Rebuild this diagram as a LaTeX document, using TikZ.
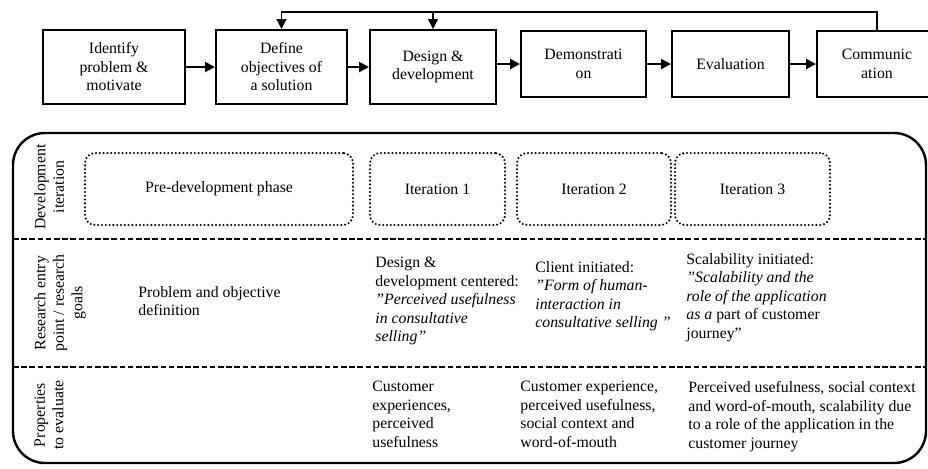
\documentclass[tikz,border=0pt]{standalone}
\usepackage{fontspec}
\setmainfont{Liberation Serif}
\usetikzlibrary{arrows.meta}
\newcommand{\txtsize}{\fontsize{7.9}{9.25}\selectfont}
\newcommand{\dq}{{\char34}}
\begin{document}
\begin{tikzpicture}[x=0.5pt,y=-0.5pt,every node/.style={font=\txtsize},
  stage/.style={draw,line width=1pt,align=center,inner sep=1pt},
  flow/.style={line width=1pt,-{Triangle[length=5pt,width=5pt]}},
  backflow/.style={line width=0.6pt,-{Triangle[length=5pt,width=5pt]}},
  iterbox/.style={draw,line width=1.15pt,dash pattern=on 0pt off 1.9pt,line cap=round,rounded corners=5pt,minimum height=36pt},
  rowlabel/.style={rotate=90,anchor=north,align=center,inner sep=0pt},
  cell/.style={anchor=north west,align=left,inner sep=0pt},
  rowsep/.style={line width=1.1pt,dash pattern=on 2.8pt off 1.3pt}]
\useasboundingbox (0,0) rectangle (928,468);
% process steps
\node[stage,minimum width=71pt,minimum height=37pt] (identify) at (114,67) {Identify\\problem \&\\motivate};
\node[stage,minimum width=65.5pt,minimum height=37pt] (define) at (281.5,67) {Define\\objectives of\\a solution};
\node[stage,minimum width=63pt,minimum height=37pt] (design) at (433,67) {Design \&\\development};
\node[stage,minimum width=62.5pt,minimum height=33pt] (demo) at (583.5,64) {Demonstrati\\on};
\node[stage,minimum width=58.5pt,minimum height=33pt] (eval) at (730.5,64) {Evaluation};
\node[stage,minimum width=60pt,minimum height=33pt] (comm) at (877,64) {Communic\\ation};
\draw[flow] (identify.east) -- (define.west);
\draw[flow] (define.east) -- (design.west);
\draw[flow] (design.east |- demo.west) -- (demo.west);
\draw[flow] (demo.east) -- (eval.west);
\draw[flow] (eval.east) -- (comm.west);
\coordinate (back) at (877,12);
\draw[backflow] (comm.north) -- (back) -- (back -| define.north) -- (define.north);
\draw[backflow] (back -| design.north) -- (design.north);
% iterations frame
\draw[line width=1.2pt,rounded corners=16pt] (13,133) rectangle (926,463);
\draw[rowsep] (13,239) -- (926,239);
\draw[rowsep] (13,367) -- (926,367);
\node[rowlabel] (lab1) at (34,187) {Development\\iteration};
\node[rowlabel] (lab2) at (34,303) {Research entry\\point / research\\goals};
\node[rowlabel] (lab3) at (34,415) {Properties\\to evaluate};
\node[iterbox,minimum width=134pt] (pre) at (219,189) {Pre-development phase};
\node[iterbox,minimum width=67.5pt] (it1) at (437.5,189) {Iteration 1};
\node[iterbox,minimum width=77pt] (it2) at (594,189) {Iteration 2};
\node[iterbox,minimum width=77.5pt] (it3) at (752.5,189) {Iteration 3};
\node[cell] (goal0) at (138,286) {Problem and objective\\definition};
\node[cell] (goal1) at (375,257) {Design \&\\development centered:\\\textit{\dq Perceived usefulness}\\\textit{in consultative}\\\textit{selling\dq}};
\node[cell] (goal2) at (535,261) {Client initiated:\\\textit{\dq Form of human-}\\\textit{interaction in}\\\textit{consultative selling \dq}};
\node[cell] (goal3) at (686,253) {Scalability initiated:\\\textit{\dq Scalability and the}\\\textit{role of the application}\\\textit{as a} part of customer\\journey”};
\node[cell] (prop1) at (372,381) {Customer\\experiences,\\perceived\\usefulness};
\node[cell] (prop2) at (520,381) {Customer experience,\\perceived usefulness,\\social context and\\word-of-mouth};
\node[cell] (prop3) at (688,381) {Perceived usefulness, social context\\and word-of-mouth, scalability due\\to a role of the application in the\\customer journey};
\end{tikzpicture}
\end{document}
